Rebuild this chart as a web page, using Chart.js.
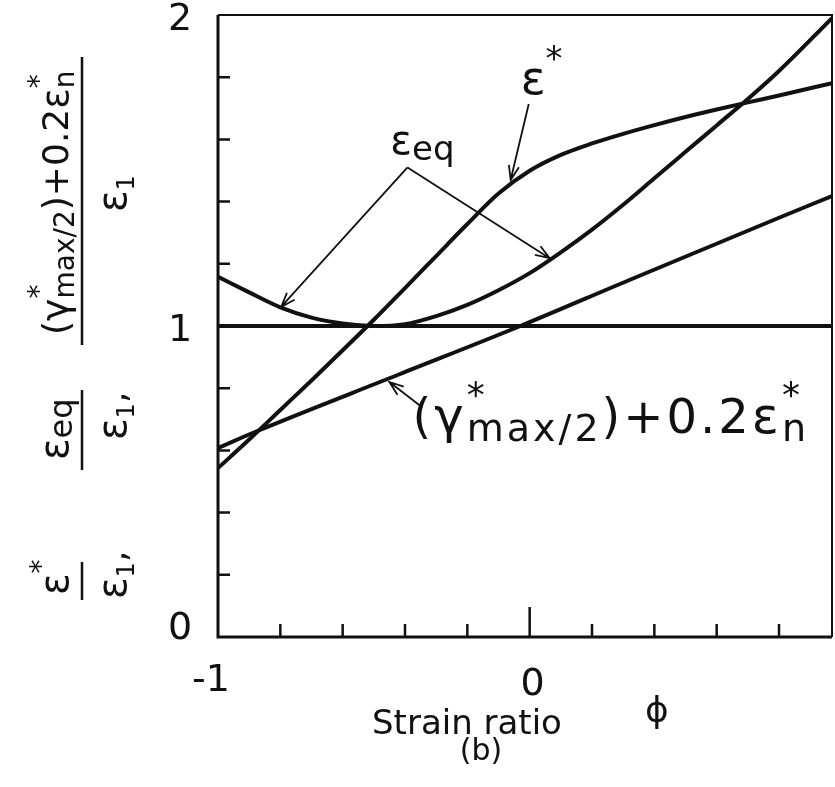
<!DOCTYPE html>
<html>
<head>
<meta charset="utf-8">
<script src="https://cdn.jsdelivr.net/npm/chart.js@4.4.1/dist/chart.umd.min.js"></script>
<style>
  html, body { margin: 0; padding: 0; background: #fff; }
  canvas { display: block; }
</style>
</head>
<body>
<canvas id="graph" width="835" height="787"></canvas>
<script>
// strain ratio phi, shared by the two eps curves
const phi = [-1, -0.9, -0.8, -0.7, -0.6, -0.5, -0.4, -0.3, -0.2, -0.1, 0, 0.1, 0.2, 0.3, 0.4, 0.5, 0.6, 0.7, 0.8, 0.97];
const epsStar = [0.543, 0.635, 0.73, 0.825, 0.922, 1.02, 1.122, 1.225, 1.328, 1.426, 1.499, 1.55, 1.587, 1.618, 1.646, 1.672, 1.696, 1.719, 1.741, 1.781];
const epsEq = [1.158, 1.108, 1.06, 1.027, 1.008, 1.0, 1.006, 1.032, 1.068, 1.115, 1.17, 1.237, 1.31, 1.39, 1.475, 1.56, 1.645, 1.73, 1.82, 1.99];
// (gamma*max/2) + 0.2 eps*n
const phiGamma = [-1, -0.87, -0.42, -0.03, 0.32, 0.8, 0.97];
const gammaN = [0.608, 0.664, 0.844, 1.0, 1.148, 1.348, 1.418];
// reference line at 1
const phiUnity = [-1, 0.97];
const unity = [1, 1];

const xTicks = [-0.8, -0.6, -0.4, -0.2, 0, 0.2, 0.4, 0.6, 0.8];
const yTicks = [0.2, 0.4, 0.6, 0.8, 1.2, 1.4, 1.6, 1.8];
const xLabels = ['-1', '0'];
const xLabelVals = [-1, 0];
const yLabels = ['0', '1', '2'];
const yLabelVals = [0, 1, 2];

const ink = '#111';
const FONT = '"DejaVu Sans", sans-serif';

function pts(xs, ys) {
    return xs.map((x, i) => ({ x: x, y: ys[i] }));
}
function curve(data) {
    return {
        data: data,
        borderColor: ink,
        borderWidth: 4,
        pointRadius: 0,
        fill: false,
        cubicInterpolationMode: 'monotone'
    };
}

// draw a run of text pieces: {t, s (size), dy, stay (no advance)}
function rich(c, x, y, parts) {
    parts.forEach(p => {
        c.font = p.s + 'px ' + FONT;
        c.fillText(p.t, x, y + (p.dy || 0));
        if (!p.stay) x += c.measureText(p.t).width + (p.gap || 0);
    });
    return x;
}

function arrow(c, x1, y1, x2, y2) {
    const a = Math.atan2(y2 - y1, x2 - x1);
    const h = 15;
    c.beginPath();
    c.moveTo(x1, y1);
    c.lineTo(x2, y2);
    c.moveTo(x2 - h * Math.cos(a - 0.35), y2 - h * Math.sin(a - 0.35));
    c.lineTo(x2, y2);
    c.lineTo(x2 - h * Math.cos(a + 0.35), y2 - h * Math.sin(a + 0.35));
    c.stroke();
}

const plugin = {
    id: 'figure',
    afterDraw: (chart) => {
        const c = chart.ctx;
        const xs = chart.scales.x, ys = chart.scales.y;
        const a = chart.chartArea;
        const px = v => xs.getPixelForValue(v);
        const py = v => ys.getPixelForValue(v);
        c.save();
        c.strokeStyle = ink;
        c.fillStyle = ink;
        c.lineCap = 'butt';

        // frame
        c.lineWidth = 3;
        c.beginPath();
        c.moveTo(a.left, a.top);
        c.lineTo(a.left, a.bottom);
        c.lineTo(a.right, a.bottom);
        c.stroke();
        c.lineWidth = 2;
        c.beginPath();
        c.moveTo(a.left, a.top);
        c.lineTo(a.right, a.top);
        c.lineTo(a.right, a.bottom);
        c.stroke();

        // inward ticks
        c.lineWidth = 2.5;
        c.beginPath();
        xTicks.forEach(v => {
            const len = v === 0 ? 30 : 13;
            c.moveTo(px(v), a.bottom);
            c.lineTo(px(v), a.bottom - len);
        });
        yTicks.forEach(v => {
            c.moveTo(a.left, py(v));
            c.lineTo(a.left + 12, py(v));
        });
        c.stroke();

        // tick labels
        c.textAlign = 'center';
        c.textBaseline = 'middle';
        c.font = '38px ' + FONT;
        yLabels.forEach((t, i) => {
            const off = yLabelVals[i] === 0 ? -8 : 5;
            c.fillText(t, a.left - 38, py(yLabelVals[i]) + off);
        });
        c.textBaseline = 'alphabetic';
        c.font = '38px ' + FONT;
        c.textAlign = 'right';
        c.fillText(xLabels[0], px(xLabelVals[0]) + 12, 691);
        c.textAlign = 'center';
        c.fillText(xLabels[1], px(xLabelVals[1]) + 3, 695);

        // x axis title
        c.textAlign = 'left';
        c.font = '34px ' + FONT;
        c.fillText('Strain ratio', 372, 734);
        c.font = '36px ' + FONT;
        c.fillText('\u03D5', 645, 722);
        c.font = '30px ' + FONT;
        c.textAlign = 'center';
        c.fillText('(b)', 481, 760);

        // y axis title, written sideways
        c.textAlign = 'left';
        c.save();
        c.translate(82, a.bottom);
        c.rotate(-Math.PI / 2);
        c.lineWidth = 2.5;
        const bar = (l0, l1) => {
            c.beginPath();
            c.moveTo(l0, 0);
            c.lineTo(l1, 0);
            c.stroke();
        };
        bar(37, 75);
        rich(c, 42, -14, [{ t: '\u03B5', s: 40 }, { t: '*', s: 28, dy: -18 }]);
        rich(c, 38, 44, [{ t: '\u03B5', s: 40 }, { t: '1', s: 24, dy: 8 }, { t: ',', s: 36 }]);
        bar(167, 247);
        rich(c, 177, -14, [{ t: '\u03B5', s: 40 }, { t: 'eq', s: 32, dy: 4 }]);
        rich(c, 197, 44, [{ t: '\u03B5', s: 40 }, { t: '1', s: 24, dy: 8 }, { t: ',', s: 36 }]);
        bar(292, 580);
        rich(c, 302, -14, [
            { t: '(', s: 36 }, { t: '\u03B3', s: 38 },
            { t: '*', s: 28, dy: -20, stay: true }, { t: 'max/2', s: 28, dy: 6 },
            { t: ')+0.2', s: 36 }, { t: '\u03B5', s: 38 },
            { t: '*', s: 28, dy: -20, stay: true }, { t: 'n', s: 28, dy: 6 }
        ]);
        rich(c, 425, 44, [{ t: '\u03B5', s: 40 }, { t: '1', s: 24, dy: 8 }]);
        c.restore();

        // curve labels and pointers
        const o = chart.options.plugins.figure;
        c.lineWidth = 1.8;
        rich(c, px(o.starLabel[0]), py(o.starLabel[1]), [{ t: '\u03B5', s: 46 }, { t: '*', s: 34, dy: -24 }]);
        arrow(c, px(o.starTail[0]), py(o.starTail[1]), px(o.starTip[0]), py(o.starTip[1]));

        rich(c, px(o.eqLabel[0]), py(o.eqLabel[1]), [{ t: '\u03B5', s: 40 }, { t: 'eq', s: 34, dy: 6 }]);
        arrow(c, px(o.eqApex[0]), py(o.eqApex[1]), px(o.eqTipL[0]), py(o.eqTipL[1]));
        arrow(c, px(o.eqApex[0]), py(o.eqApex[1]), px(o.eqTipR[0]), py(o.eqTipR[1]));

        c.letterSpacing = '3px';
        rich(c, px(o.gLabel[0]), py(o.gLabel[1]), [
            { t: '(', s: 48 }, { t: '\u03B3', s: 50 },
            { t: '*', s: 36, dy: -26, stay: true }, { t: 'max/2', s: 38, dy: 8 },
            { t: ')+0.2', s: 48 }, { t: '\u03B5', s: 50 },
            { t: '*', s: 36, dy: -26, stay: true }, { t: 'n', s: 38, dy: 8 }
        ]);
        c.letterSpacing = '0px';
        arrow(c, px(o.gTail[0]), py(o.gTail[1]), px(o.gTip[0]), py(o.gTip[1]));
        c.restore();
    }
};

const ctx = document.getElementById('graph');
const chart = new Chart(ctx, {
    type: 'line',
    data: {
        datasets: [
            curve(pts(phi, epsStar)),
            curve(pts(phi, epsEq)),
            curve(pts(phiGamma, gammaN)),
            curve(pts(phiUnity, unity))
        ]
    },
    options: {
        responsive: false,
        animation: false,
        devicePixelRatio: 1,
        layout: { padding: { left: 218, top: 15, right: 3, bottom: 150 } },
        plugins: {
            legend: { display: false },
            tooltip: { enabled: false },
            figure: {
                starLabel: [-0.029, 1.746], starTail: [-0.003, 1.714], starTip: [-0.061, 1.47],
                eqLabel: [-0.447, 1.552], eqApex: [-0.392, 1.51], eqTipL: [-0.797, 1.062], eqTipR: [0.064, 1.218],
                gLabel: [-0.376, 0.657], gTail: [-0.344, 0.738], gTip: [-0.45, 0.82]
            }
        },
        scales: {
            x: { type: 'linear', min: -1, max: 0.97, display: false },
            y: { type: 'linear', min: 0, max: 2, display: false }
        }
    },
    plugins: [plugin]
});
</script>
</body>
</html>
